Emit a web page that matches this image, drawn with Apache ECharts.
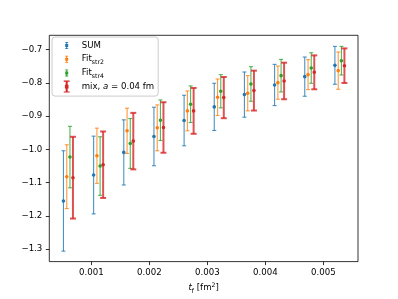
<!DOCTYPE html>
<html>
<head>
<meta charset="utf-8">
<script src="https://cdn.jsdelivr.net/npm/echarts@6/dist/echarts.min.js"></script>
<style>
html,body{margin:0;padding:0;background:#fff;}
#chart{width:398px;height:299px;}
</style>
</head>
<body>
<div id="chart"></div>
<script>
// ---- data ----
const tValues = [0.00052, 0.00104, 0.00156, 0.00208, 0.0026, 0.00312, 0.00364, 0.00416, 0.00468, 0.0052];
const sumVals = [-1.155, -1.077, -1.009, -0.961, -0.913, -0.872, -0.835, -0.806, -0.781, -0.747];
const sumErr  = [0.151, 0.117, 0.098, 0.088, 0.076, 0.071, 0.068, 0.062, 0.059, 0.057];
const str2Vals = [-1.082, -1.019, -0.944, -0.935, -0.884, -0.843, -0.831, -0.799, -0.775, -0.763];
const str2Err  = [0.096, 0.083, 0.068, 0.069, 0.060, 0.055, 0.053, 0.050, 0.045, 0.056];
const str4Vals = [-1.023, -1.050, -0.982, -0.912, -0.864, -0.825, -0.803, -0.778, -0.755, -0.733];
const str4Err  = [0.0925, 0.088, 0.075, 0.061, 0.055, 0.050, 0.052, 0.049, 0.046, 0.043];
const mixVals = [-1.085, -1.046, -0.975, -0.934, -0.884, -0.844, -0.823, -0.794, -0.768, -0.748];
const mixErr  = [0.123, 0.100, 0.085, 0.076, 0.069, 0.062, 0.060, 0.055, 0.051, 0.052];
const seriesNames = ['SUM', 'Fit_str2', 'Fit_str4', 'mix'];
const yTicks = [-1.3, -1.2, -1.1, -1.0, -0.9, -0.8, -0.7];
const xTicks = [0.001, 0.002, 0.003, 0.004, 0.005];

// ---- styling / layout ----
const colors = ['#1f77b4', '#ff7f0e', '#2ca02c', '#d62728'];
const xShift = [0, 0.000057, 0.000112, 0.000164]; // horizontal dodge per series
const styles = [
  {lw: 1.1, cap: 2, ms: 1.8, op: 0.8},
  {lw: 1.1, cap: 2, ms: 1.8, op: 0.8},
  {lw: 1.1, cap: 2, ms: 1.8, op: 0.8},
  {lw: 2.0, cap: 3, ms: 1.8, op: 0.8}
];
const FONT = 'DejaVu Sans';
const FS = 8.6;

function build(vals, errs, k) {
  return tValues.map((t, i) => [t + xShift[k], vals[i], errs[i]]);
}
const allVals = [sumVals, str2Vals, str4Vals, mixVals];
const allErrs = [sumErr, str2Err, str4Err, mixErr];

function renderer(st) {
  return function (params, api) {
    const x = api.value(0), y = api.value(1), e = api.value(2);
    const pt = api.coord([x, y + e]);
    const pb = api.coord([x, y - e]);
    const pc = api.coord([x, y]);
    const color = api.visual('color');
    const ls = {stroke: color, lineWidth: st.lw, opacity: st.op};
    return {
      type: 'group',
      children: [
        {type: 'line', shape: {x1: pt[0], y1: pt[1], x2: pb[0], y2: pb[1]}, style: ls},
        {type: 'line', shape: {x1: pt[0] - st.cap, y1: pt[1], x2: pt[0] + st.cap, y2: pt[1]}, style: ls},
        {type: 'line', shape: {x1: pb[0] - st.cap, y1: pb[1], x2: pb[0] + st.cap, y2: pb[1]}, style: ls},
        {type: 'circle', shape: {cx: pc[0], cy: pc[1], r: st.ms}, style: {fill: color}}
      ]
    };
  };
}

const iconNormal = 'path://M0,0M10,12M3.5,2.5H6.5V3.3H5.5V4.5H6.5V7.5H5.5V8.7H6.5V9.5H3.5V8.7H4.5V7.5H3.5V4.5H4.5V3.3H3.5Z';
const iconRed = 'path://M0,0M10,12M2,0H8V1.2H6V4.2H6.8V7.8H6V10.8H8V12H2V10.8H4V7.8H3.2V4.2H4V1.2H2Z';
const legendLabels = {
  'SUM': '{sp|}SUM',
  'Fit_str2': '{sp|}Fit{sub|str2}',
  'Fit_str4': '{sp|}Fit{sub|str4}',
  'mix': '{sp|}mix, {it|a} = 0.04 fm'
};

const chart = echarts.init(document.getElementById('chart'), null, {renderer: 'canvas'});
chart.setOption({
  animation: false,
  backgroundColor: '#fff',
  color: colors,
  grid: {left: 49.3, right: 40, top: 35.3, bottom: 33.3, show: true, borderColor: '#000', borderWidth: 0.8, containLabel: false},
  legend: {
    orient: 'vertical',
    left: 52, top: 37,
    padding: [2.5, 4, 3.5, 9.7],
    itemWidth: 10, itemHeight: 12, itemGap: 1.7,
    backgroundColor: 'rgba(255,255,255,0.8)',
    borderColor: '#cccccc', borderWidth: 1, borderRadius: 3,
    data: seriesNames.map((n, i) => ({name: n, icon: i === 3 ? iconRed : iconNormal})),
    formatter: n => legendLabels[n],
    textStyle: {
      fontFamily: FONT, fontSize: FS, color: '#000', lineHeight: 12,
      rich: {
        sp: {width: 5, fontSize: FS},
        sub: {fontSize: 6.2, fontFamily: FONT, color: '#000', lineHeight: 5, verticalAlign: 'bottom'},
        it: {fontStyle: 'italic', fontSize: FS, fontFamily: FONT, color: '#000'}
      }
    }
  },
  xAxis: {
    type: 'value',
    min: 0.000276, max: 0.005598,
    axisLine: {show: false},
    splitLine: {show: false},
    axisTick: {show: true, length: 3.5, lineStyle: {color: '#000', width: 0.8}, customValues: xTicks},
    axisLabel: {
      customValues: xTicks, margin: 6.5,
      fontFamily: FONT, fontSize: FS, color: '#000',
      formatter: v => v.toFixed(3)
    },
    name: '{it|t}{sub|f} [fm{sup|2}]',
    nameLocation: 'middle', nameGap: 14,
    nameTextStyle: {
      fontFamily: FONT, fontSize: FS, color: '#000', lineHeight: 12,
      rich: {
        it: {fontStyle: 'italic', fontSize: FS, fontFamily: FONT, color: '#000'},
        sub: {fontSize: 6.2, fontFamily: FONT, color: '#000', lineHeight: 6, verticalAlign: 'bottom'},
        sup: {fontSize: 6.2, fontFamily: FONT, color: '#000', lineHeight: 6, verticalAlign: 'top'}
      }
    }
  },
  yAxis: {
    type: 'value',
    min: -1.3375, max: -0.6566,
    axisLine: {show: false},
    splitLine: {show: false},
    axisTick: {show: true, length: 3.5, lineStyle: {color: '#000', width: 0.8}, customValues: yTicks},
    axisLabel: {
      customValues: yTicks, margin: 7,
      fontFamily: FONT, fontSize: FS, color: '#000',
      formatter: v => v.toFixed(1).replace('-', '\u2212')
    }
  },
  series: seriesNames.map((n, k) => ({
    name: n,
    type: 'custom',
    renderItem: renderer(styles[k]),
    encode: {x: 0, y: 1},
    data: build(allVals[k], allErrs[k], k),
    z: 2 + k
  }))
});
</script>
</body>
</html>
